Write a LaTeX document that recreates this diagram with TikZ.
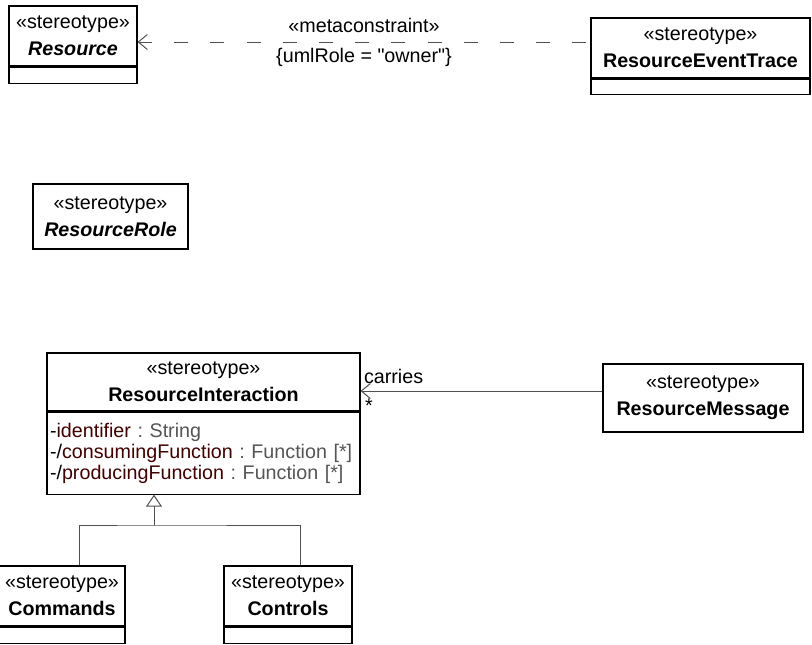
\documentclass[tikz,border=0pt]{standalone}
\usepackage{fontspec}
\setmainfont{Liberation Sans}
\usepackage{tikz}
\usetikzlibrary{arrows.meta, positioning}

\definecolor{attrName}{RGB}{64,0,0}
\definecolor{attrType}{RGB}{85,85,85}
\definecolor{lineGray}{RGB}{80,80,80}

\newcommand{\attr}[1]{\textcolor{attrName}{#1}}
\newcommand{\atype}[1]{\textcolor{attrType}{#1}}

\begin{document}
\frenchspacing
\begin{tikzpicture}[
        x=1pt, y=-1pt,
        head/.style={
            rectangle, draw=black, line width=1.1pt, fill=white,
            align=center, inner sep=2pt,
            font=\fontsize{19.7}{27}\selectfont
        },
        compart/.style={
            rectangle, draw=black, line width=1.1pt, fill=white,
            minimum height=16pt, inner sep=0pt
        },
        attrs/.style={
            rectangle, draw=black, line width=1.1pt, fill=white,
            align=left, inner xsep=3pt, inner ysep=2pt,
            font=\fontsize{19.7}{21}\selectfont
        },
        dep/.style={
            line width=1pt, draw=lineGray,
            dash pattern=on 14pt off 22.2pt, dash phase=32.2pt,
            -{Straight Barb[length=9pt, width=15pt]}
        },
        assoc/.style={
            line width=1pt, draw=lineGray,
            -{Straight Barb[length=9pt, width=15pt]}
        },
        genline/.style={
            line width=1pt, draw=lineGray
        },
        gen/.style={
            line width=1pt, draw=lineGray,
            -{Triangle[open, length=12pt, width=16pt, fill=white]}
        },
        lbl/.style={
            inner sep=0pt, font=\fontsize{19.7}{21}\selectfont
        }
    ]
        \useasboundingbox (0,0) rectangle (812,645);

        % Top row
        \node (resHead) [head, minimum width=128pt, minimum height=60pt] at (73,36)
            {«stereotype»\\\textbf{\textit{Resource}}};
        \node (resAttr) [compart, minimum width=128pt, below=0pt of resHead] {};

        \node (traceHead) [head, minimum width=219pt, minimum height=60pt] at (700.5,48)
            {«stereotype»\\\textbf{ResourceEventTrace}};
        \node (traceAttr) [compart, minimum width=219pt, minimum height=15pt, below=0pt of traceHead] {};

        \node (role) [head, minimum width=155pt, minimum height=65pt] at (110.5,216.5)
            {«stereotype»\\\textbf{\textit{ResourceRole}}};

        % Interaction and message
        \node (interHead) [head, minimum width=313pt, minimum height=58pt] at (203.5,382)
            {«stereotype»\\\textbf{ResourceInteraction}};
        \node (interAttr) [attrs, text width=307pt, minimum height=82pt, below=0pt of interHead]
            {-\attr{identifier} \atype{: String}\\
             -/\attr{consumingFunction} \atype{: Function [*]}\\
             -/\attr{producingFunction} \atype{: Function [*]}};

        \node (msg) [head, minimum width=200pt, minimum height=68pt] at (703,398)
            {«stereotype»\\\textbf{ResourceMessage}};

        % Subtypes
        \node (cmdHead) [head, minimum width=126pt, minimum height=60pt] at (62,596)
            {«stereotype»\\\textbf{Commands}};
        \node (cmdAttr) [compart, minimum width=126pt, below=0pt of cmdHead] {};

        \node (ctrlHead) [head, minimum width=128pt, minimum height=60pt] at (288,596)
            {«stereotype»\\\textbf{Controls}};
        \node (ctrlAttr) [compart, minimum width=128pt, below=0pt of ctrlHead] {};

        \coordinate (split) at (154,525);

        % Connectors
        \draw [dep] ([yshift=6pt]traceHead.west) -- ([yshift=6pt]traceHead.west -| resHead.east)
            node (metaLbl) [lbl, pos=0.5, yshift=17pt] {«metaconstraint»}
            node (roleLbl) [lbl, pos=0.5, yshift=-15pt] {\{umlRole = \textquotedbl owner\textquotedbl\}};

        \draw [assoc] ([yshift=7pt]msg.west) -- ([yshift=7pt]msg.west -| interHead.east)
            node (carriesLbl) [lbl, pos=1, anchor=west, xshift=3pt, yshift=15pt] {carries}
            node (multLbl) [lbl, pos=1, anchor=west, xshift=4pt, yshift=-15pt] {*};

        \draw [genline] ([xshift=17pt]cmdHead.north) |- (split) -| ([xshift=12pt]ctrlHead.north);
        \draw [gen] (split) -- (split |- interAttr.south);
    \end{tikzpicture}
\end{document}
